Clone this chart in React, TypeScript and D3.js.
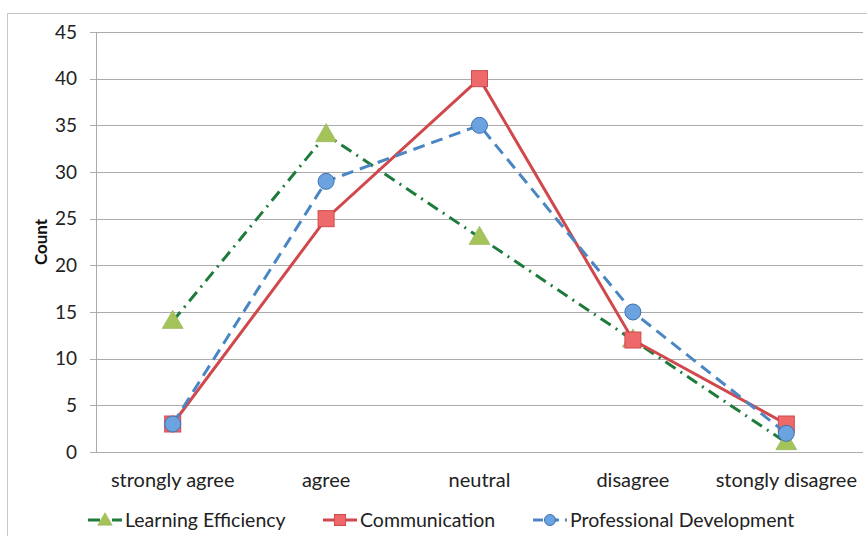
import React, { useRef, useEffect } from 'react';
import * as d3 from 'd3';

const categories = ['strongly agree', 'agree', 'neutral', 'disagree', 'stongly disagree'];
const learningEfficiency = [14, 34, 23, 12, 1];
const communication = [3, 25, 40, 12, 3];
const professionalDevelopment = [3, 29, 35, 15, 2];
const yTicks = [0, 5, 10, 15, 20, 25, 30, 35, 40, 45];

const seriesList = [
  { name: 'Learning Efficiency', values: learningEfficiency, line: '#1e7b3c', fill: '#a4c45a', dash: '12,6,2,6', marker: 'triangle' },
  { name: 'Communication', values: communication, line: '#d0484c', fill: '#ee6a6a', dash: null, marker: 'square' },
  { name: 'Professional Development', values: professionalDevelopment, line: '#4a86c4', fill: '#6ba3e0', dash: '12,7', marker: 'circle' },
];

const FONT = 'Lato, "Open Sans", sans-serif';

const App = () => {
  const svgRef = useRef<SVGSVGElement | null>(null);

  useEffect(() => {
    const width = 867;
    const height = 536;
    const svg = d3.select(svgRef.current);
    svg.selectAll('*').remove();
    svg.attr('width', width).attr('height', height);

    // background + chart frame
    svg.append('rect').attr('width', width).attr('height', height).attr('fill', '#fff');
    svg.append('rect')
      .attr('x', 7.5).attr('y', 13.5).attr('width', 880).attr('height', 540)
      .attr('fill', 'none').attr('stroke', '#c8c8c8');

    const left = 96;
    const right = 863;
    const top = 32;
    const bottom = 452;

    const x = d3.scaleBand().domain(categories).range([left, right]);
    const y = d3.scaleLinear().domain([0, 45]).range([bottom, top]);
    const cx = (c: string) => (x(c) as number) + x.bandwidth() / 2;

    // gridlines
    svg.append('g').selectAll('line').data(yTicks).join('line')
      .attr('x1', left - 6).attr('x2', right)
      .attr('y1', (d) => Math.round(y(d)) + 0.5).attr('y2', (d) => Math.round(y(d)) + 0.5)
      .attr('stroke', '#ababab').attr('stroke-width', 1);
    svg.append('line')
      .attr('x1', left + 0.5).attr('x2', left + 0.5).attr('y1', top).attr('y2', bottom)
      .attr('stroke', '#ababab');

    // y labels
    svg.append('g').selectAll('text').data(yTicks).join('text')
      .attr('x', 77).attr('y', (d) => y(d))
      .attr('dy', '0.35em').attr('text-anchor', 'end')
      .attr('font-family', FONT).attr('font-size', 19).attr('fill', '#222')
      .text((d) => d);

    svg.append('text')
      .attr('transform', `translate(47,${(top + bottom) / 2}) rotate(-90)`)
      .attr('text-anchor', 'middle')
      .attr('font-family', FONT).attr('font-size', 17).attr('font-weight', 'bold').attr('fill', '#111')
      .text('Count');

    // x labels
    svg.append('g').selectAll('text').data(categories).join('text')
      .attr('x', (d) => cx(d)).attr('y', 487)
      .attr('text-anchor', 'middle')
      .attr('font-family', FONT).attr('font-size', 20).attr('fill', '#222')
      .text((d) => d);

    const drawMarker = (g: any, type: string, px: number, py: number, fill: string, line: string, size = 16) => {
      if (type === 'square') {
        g.append('rect').attr('x', px - size / 2).attr('y', py - size / 2)
          .attr('width', size).attr('height', size)
          .attr('fill', fill).attr('stroke', line).attr('stroke-width', 1);
      } else if (type === 'circle') {
        g.append('circle').attr('cx', px).attr('cy', py).attr('r', size / 2)
          .attr('fill', fill).attr('stroke', '#3f72ad').attr('stroke-width', 1);
      } else {
        const tri = d3.symbol().type(d3.symbolTriangle).size(size * size * 0.75);
        g.append('path').attr('d', tri()).attr('transform', `translate(${px},${py + 1})`)
          .attr('fill', fill).attr('stroke', '#8aa84a').attr('stroke-width', 0.5);
      }
    };

    const lineGen = d3.line<number>()
      .x((_, i) => cx(categories[i]))
      .y((d) => y(d));

    seriesList.forEach((s) => {
      const g = svg.append('g');
      g.append('path').attr('d', lineGen(s.values))
        .attr('fill', 'none').attr('stroke', s.line).attr('stroke-width', 3)
        .attr('stroke-dasharray', s.dash);
      s.values.forEach((v, i) => drawMarker(g, s.marker, cx(categories[i]), y(v), s.fill, s.line));
    });

    // legend
    const legendX = [88, 323, 533];
    const legend = svg.append('g');
    seriesList.forEach((s, i) => {
      const lx = legendX[i];
      const ly = 520;
      legend.append('line').attr('x1', lx).attr('x2', lx + 34).attr('y1', ly).attr('y2', ly)
        .attr('stroke', s.line).attr('stroke-width', 3)
        .attr('stroke-dasharray', s.dash ? (i === 0 ? '12,5,2,5' : '10,6') : null);
      drawMarker(legend, s.marker, lx + 17, ly, s.fill, s.line, 11);
      legend.append('text').attr('x', lx + 37).attr('y', ly).attr('dy', '0.35em')
        .attr('font-family', FONT).attr('font-size', 19.5).attr('fill', '#222')
        .text(s.name);
    });
  }, []);

  return <svg ref={svgRef} style={{ display: 'block', position: 'absolute', left: 0, top: 0 }}></svg>;
};

export default App;
